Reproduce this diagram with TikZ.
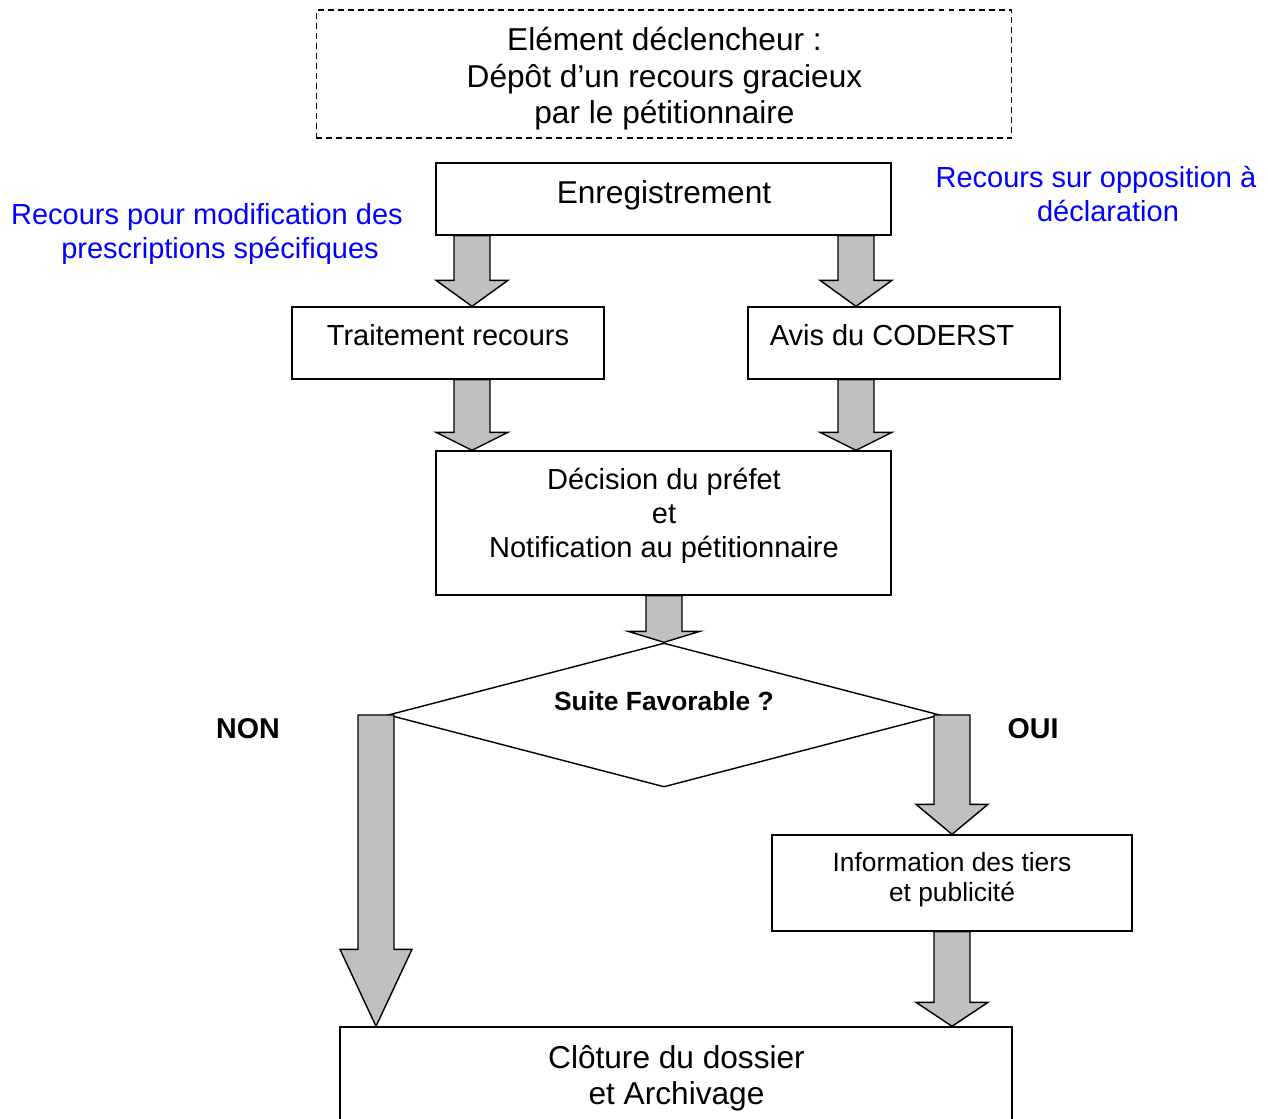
\documentclass[tikz,border=0pt]{standalone}
\usepackage{fontspec}
\setmainfont{Liberation Sans}
\usetikzlibrary{shapes.geometric,calc}
\definecolor{flowgray}{RGB}{192,192,192}
\newcommand\largetxt{\fontsize{18}{20.7}\selectfont}
\newcommand\midtxt{\fontsize{16.5}{19.35}\selectfont}
\newcommand\smalltxt{\fontsize{15}{17}\selectfont}
\tikzset{
  box/.style={draw,line width=0.8pt,inner sep=0pt},
  txt/.style={inner sep=0pt,align=center},
  note/.style={txt,text=blue,font=\midtxt},
  answer/.style={txt,font=\fontsize{16.3}{19}\selectfont\bfseries},
  flow/.style={draw,line width=0.8pt,fill=flowgray,line join=miter},
}
% #1 head length in px, #2 x in px, #3 start, #4 tip
\newcommand\flowarrow[4]{%
  \draw[flow] let \p1=(#3), \p2=(#4) in
    (#2*0.02cm-0.36cm,\y1) -- (#2*0.02cm-0.36cm,\y2+#1*0.02cm) -- (#2*0.02cm-0.72cm,\y2+#1*0.02cm)
    -- (#2*0.02cm,\y2) -- (#2*0.02cm+0.72cm,\y2+#1*0.02cm) -- (#2*0.02cm+0.36cm,\y2+#1*0.02cm)
    -- (#2*0.02cm+0.36cm,\y1) -- cycle;}
\begin{document}
\begin{tikzpicture}[x=0.02cm,y=-0.02cm]
\clip (0,0) rectangle (1268,1119);
\node[box,line width=0.6pt,dash pattern=on 3.4pt off 2.3pt,minimum width=13.92cm,minimum height=2.56cm] (trigger) at (664,74) {};
\node[txt,font=\largetxt] (trigger-t) at (664.5,79) {Elément déclencheur :\\Dépôt d’un recours gracieux\\par le pétitionnaire};
\node[box,minimum width=9.1cm,minimum height=1.44cm] (enreg) at (663.5,199) {};
\node[txt,font=\largetxt] (enreg-t) at (664,195) {Enregistrement};
\node[note] (modif) at (220,234) {Recours pour modification des\hspace*{0.9em}\\prescriptions spécifiques};
\node[note] (oppos) at (1108,194) {Recours sur opposition à\hspace*{0.83em}\\déclaration};
\node[box,minimum width=6.24cm,minimum height=1.44cm] (trait) at (448,343) {};
\node[txt,font=\midtxt] (trait-t) at (448,335) {Traitement recours};
\node[box,minimum width=6.24cm,minimum height=1.44cm] (avis) at (904,343) {};
\node[txt,font=\midtxt] (avis-t) at (892,335) {Avis du CODERST};
\node[box,minimum width=9.1cm,minimum height=2.88cm] (decis) at (663.5,523) {};
\node[txt,font=\midtxt] (decis-t) at (664,516) {Décision du préfet\\et\\Notification au pétitionnaire};
\node[box,diamond,minimum width=11.04cm,minimum height=2.88cm] (suite) at (664,715) {};
\node[txt,font=\smalltxt\bfseries] (suite-t) at (664,701) {Suite Favorable ?};
\node[answer] (non) at (248,729) {NON};
\node[answer] (oui) at (1033,729) {OUI};
\node[box,minimum width=7.2cm,minimum height=1.92cm] (info) at (952,883) {};
\node[txt,font=\smalltxt] (info-t) at (952,880) {Information des tiers\\et publicité};
\node[box,minimum width=13.44cm,minimum height=2.66cm] (clot) at (676,1093.5) {};
\node[txt,font=\largetxt] (clot-t) at (676.5,1078) {Clôture du dossier\\et Archivage};
\flowarrow{26}{472}{enreg.south}{trait.north}
\flowarrow{26}{856}{enreg.south}{avis.north}
\flowarrow{18}{472}{trait.south}{decis.north}
\flowarrow{18}{856}{avis.south}{decis.north}
\flowarrow{11}{664}{decis.south}{suite.north}
\flowarrow{77}{376}{suite.west}{clot.north}
\flowarrow{30}{952}{suite.east}{info.north}
\flowarrow{24}{952}{info.south}{clot.north}
\end{tikzpicture}
\end{document}
